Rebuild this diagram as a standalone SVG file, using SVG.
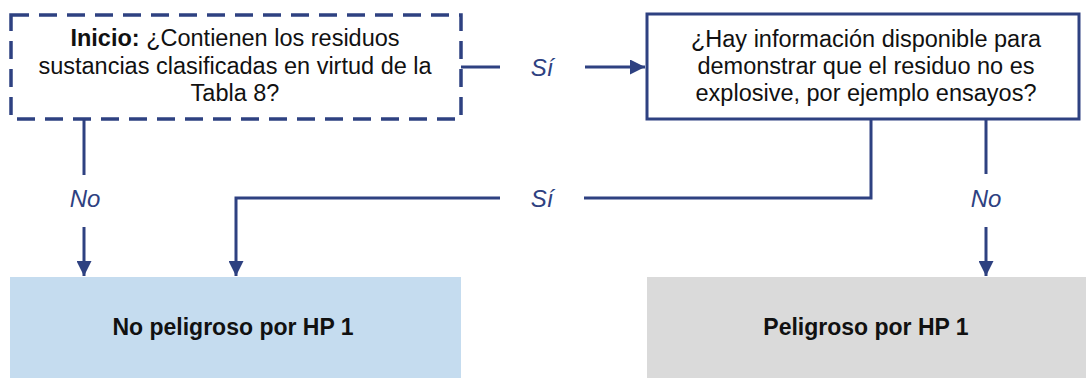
<svg xmlns="http://www.w3.org/2000/svg" width="1086" height="378" viewBox="0 0 1086 378">
<defs>
<marker id="ah" viewBox="0 0 10 10" refX="10" refY="5" markerWidth="5" markerHeight="5" orient="auto" markerUnits="strokeWidth">
<path d="M0,0 L10,5 L0,10 Z" fill="#2E4181"/>
</marker>
</defs>
<style>
.t{font-family:"Liberation Sans",Arial,sans-serif;font-size:23.5px;fill:#111;text-anchor:middle}
.b{font-weight:bold}
.bt{font-family:"Liberation Sans",Arial,sans-serif;font-size:23px;font-weight:bold;fill:#111;text-anchor:middle}
.lbl{font-family:"Liberation Sans",Arial,sans-serif;font-size:24px;font-style:italic;fill:#2E4181;text-anchor:middle}
.ln{fill:none;stroke:#2E4181;stroke-width:3}
</style>
<rect width="1086" height="378" fill="#fff"/>
<g id="start">
<rect x="11" y="15" width="450" height="104" fill="#fff" stroke="#2E4181" stroke-width="3.5" stroke-dasharray="18,10"/>
<text class="t" x="235" y="46"><tspan class="b">Inicio:</tspan> ¿Contienen los residuos</text>
<text class="t" x="235" y="74">sustancias clasificadas en virtud de la</text>
<text class="t" x="235" y="101">Tabla 8?</text>
</g>
<g id="question">
<rect x="647" y="14" width="432" height="105" fill="#fff" stroke="#2E4181" stroke-width="3"/>
<text class="t" x="866" y="47">¿Hay información disponible para</text>
<text class="t" x="866" y="74">demonstrar que el residuo no es</text>
<text class="t" x="866" y="101">explosive, por ejemplo ensayos?</text>
</g>
<g id="nonhaz">
<rect x="10" y="277" width="451" height="101" fill="#C5DCEF"/>
<text class="bt" x="233" y="335">No peligroso por HP 1</text>
</g>
<g id="haz">
<rect x="647" y="277" width="439" height="101" fill="#DADADA"/>
<text class="bt" x="866" y="335">Peligroso por HP 1</text>
</g>
<g id="connectors">
<path class="ln" d="M461,67 H500"/>
<path class="ln" d="M585,67 H645" marker-end="url(#ah)"/>
<text class="lbl" x="542" y="76">Sí</text>
<path class="ln" d="M84,119 V175"/>
<path class="ln" d="M84,227 V276" marker-end="url(#ah)"/>
<text class="lbl" x="85" y="207">No</text>
<path class="ln" d="M871,119 V198 H584"/>
<path class="ln" d="M500,198 H236 V276" marker-end="url(#ah)"/>
<text class="lbl" x="542" y="207">Sí</text>
<path class="ln" d="M986,119 V174"/>
<path class="ln" d="M986,227 V276" marker-end="url(#ah)"/>
<text class="lbl" x="986" y="207">No</text>
</g>
</svg>
